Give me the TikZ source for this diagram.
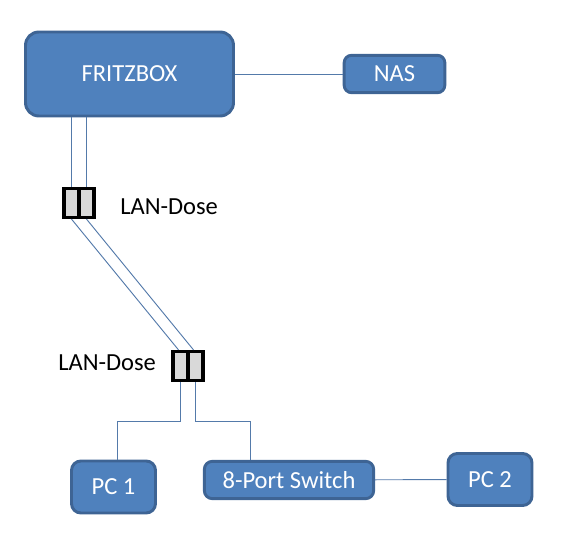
\documentclass[tikz,border=0pt]{standalone}
\usepackage{fontspec}
\setmainfont{Carlito}
\usepackage{xcolor}
\usetikzlibrary{positioning}
\definecolor{boxblau}{RGB}{79,129,189}
\definecolor{boxrand}{RGB}{62,100,148}
\definecolor{kabelblau}{RGB}{84,122,170}
\definecolor{dosegrau}{RGB}{217,217,217}
\tikzset{
  geraet/.style={rectangle,rounded corners=#1,draw=boxrand,fill=boxblau,line width=2.2pt,
    text=white,font=\fontsize{18.4}{22}\selectfont,inner sep=0pt},
  dose/.style={rectangle,draw=black,fill=dosegrau,line width=2.4pt,
    minimum width=11.25pt,minimum height=21.75pt,inner sep=0pt},
  kabel/.style={kabelblau,line width=0.7pt},
  beschriftung/.style={font=\fontsize{18.4}{22}\selectfont,text=black,inner sep=0pt}
}
\begin{document}
\begin{tikzpicture}[x=0.75pt,y=-0.75pt]
  \useasboundingbox (0,0) rectangle (564,541);
  % Geraete
  \node[geraet=10pt,minimum width=156pt,minimum height=63pt] (fritzbox) at (129.5,74) {FRITZBOX};
  \node[geraet=5.5pt,minimum width=75.5pt,minimum height=28pt] (nas) at (394.5,74) {NAS};
  \node[geraet=7pt,minimum width=63pt,minimum height=39pt] (pca) at (113.5,487) {PC 1};
  \node[geraet=6pt,minimum width=127pt,minimum height=28pt] (switch) at (289,480) {8-Port Switch};
  \node[geraet=7pt,minimum width=63pt,minimum height=39pt] (pcb) at (490,479.5) {PC 2};
  % LAN-Dosen
  \node[dose] (doseaa) at (71.5,203) {};
  \node[dose] (doseab) at (86.5,203) {};
  \node[dose] (doseba) at (180.5,366) {};
  \node[dose] (dosebb) at (195.5,366) {};
  \node[beschriftung,anchor=west] (labela) at (120,207) {LAN-Dose};
  \node[beschriftung,anchor=west] (labelb) at (58,363) {LAN-Dose};
  % Kabel
  \coordinate (knicka) at (117,421);
  \coordinate (knickb) at (250,421);
  \draw[kabel] (fritzbox) -- (nas);
  \draw[kabel] (switch) -- (pcb);
  \draw[kabel] (doseaa.north) -- (doseaa.north |- fritzbox.south);
  \draw[kabel] (doseab.north) -- (doseab.north |- fritzbox.south);
  \draw[kabel] (doseaa.south) -- ([xshift=-1.5pt]doseba.north);
  \draw[kabel] (doseab.south) -- ([xshift=-1.5pt]dosebb.north);
  \draw[kabel] (doseba.south) |- (knicka) -- (knicka |- pca.north);
  \draw[kabel] (dosebb.south) |- (knickb) -- (knickb |- switch.north);
\end{tikzpicture}
\end{document}
